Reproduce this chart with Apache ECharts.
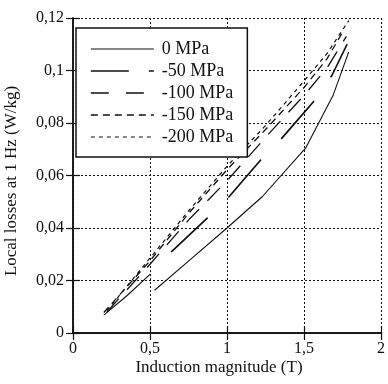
<!DOCTYPE html>
<html>
<head>
<meta charset="utf-8">
<script src="https://cdn.jsdelivr.net/npm/echarts@6/dist/echarts.min.js"></script>
<style>html,body{margin:0;padding:0;background:#fff}#c{width:388px;height:384px}</style>
</head>
<body>
<div id="c"></div>
<script>
// ---- data ----
const seriesNames = ['0 MPa', '-50 MPa', '-100 MPa', '-150 MPa', '-200 MPa'];
const b0   = [0.2, 0.35, 0.5, 0.51, 0.53, 0.75, 1.0, 1.23, 1.51, 1.69, 1.79];
const l0   = [0.0068, 0.0142, 0.0223, null, 0.0163, 0.0274, 0.040, 0.052, 0.0704, 0.0907, 0.107];
const b50  = [0.5, 0.64, 0.87, 1.0, 1.22, 1.35, 1.56, 1.68, 1.78];
const l50  = [0.0233, 0.031, 0.0437, 0.051, 0.066, 0.0738, 0.088, 0.098, 0.110];
const b100 = [0.22, 0.5, 0.75, 1.0, 1.25, 1.5, 1.65, 1.775];
const l100 = [0.0080, 0.0262, 0.043, 0.058, 0.0745, 0.0905, 0.101, 0.113];
const b150 = [0.2, 0.5, 0.75, 1.0, 1.25, 1.5, 1.65, 1.76];
const l150 = [0.0078, 0.0275, 0.0455, 0.0622, 0.0775, 0.0935, 0.1045, 0.1155];
const b200 = [0.22, 0.5, 0.75, 1.0, 1.25, 1.5, 1.65, 1.79];
const l200 = [0.0085, 0.0285, 0.0465, 0.0635, 0.079, 0.096, 0.1065, 0.119];
const xTickLabels = ['0', '0,5', '1', '1,5', '2'];
const yTickLabels = ['0', '0,02', '0,04', '0,06', '0,08', '0,1', '0,12'];
const xTitle = 'Induction magnitude (T)';
const yTitle = 'Local losses at 1 Hz (W/kg)';

function pairs(bs, ls) { return bs.map((b, i) => [b, ls[i] === null ? '-' : ls[i]]); }
const FONT = '"Liberation Serif", "DejaVu Serif", serif';
const INK = '#111';

const styles = [
  { type: 'solid', width: 1.1 },
  { type: [50, 29], width: 1.7, dashOffset: 50 },
  { type: [18, 12], width: 1.3 },
  { type: [7, 5], width: 1.3 },
  { type: [4, 4], width: 1.2 }
];
const legendDash = ['solid', [38, 20], [18, 17], [7, 5], [4, 4]];
const data = [pairs(b0, l0), pairs(b50, l50), pairs(b100, l100), pairs(b150, l150), pairs(b200, l200)];

const chart = echarts.init(document.getElementById('c'), null, { renderer: 'canvas' });
const axisCommon = {
  type: 'value',
  axisLine: { show: true, lineStyle: { color: INK, width: 1.5 } },
  axisTick: { show: true, inside: true, length: 7, lineStyle: { color: INK, width: 1.2 } },
  splitLine: { show: false },
  axisLabel: { show: false }
};
chart.setOption({
  animation: false,
  backgroundColor: '#fff',
  grid: { left: 73, right: 2, top: 18, bottom: 51, show: false },
  xAxis: [
    Object.assign({}, axisCommon, {
      position: 'bottom', min: 0, max: 2, interval: 0.5,
      splitLine: { show: true, lineStyle: { color: INK, type: [2, 2], width: 1 } },
      axisLabel: { show: true, color: INK, fontFamily: FONT, fontSize: 16, margin: 8,
        formatter: v => xTickLabels[Math.round(v / 0.5)] }
    }),
    Object.assign({}, axisCommon, { position: 'top', min: 0, max: 2, interval: 0.5 })
  ],
  yAxis: [
    Object.assign({}, axisCommon, {
      position: 'left', min: 0, max: 0.12, interval: 0.02,
      splitLine: { show: true, lineStyle: { color: INK, type: [2, 2], width: 1 } },
      axisLabel: { show: true, color: INK, fontFamily: FONT, fontSize: 16, margin: 9,
        formatter: v => yTickLabels[Math.round(v / 0.02)] }
    }),
    Object.assign({}, axisCommon, { position: 'right', min: 0, max: 0.12, interval: 0.02 })
  ],
  legend: {
    left: 76, top: 28, orient: 'vertical',
    backgroundColor: '#fff', borderColor: INK, borderWidth: 1.5,
    padding: [12, 14, 11, 14],
    itemWidth: 63, itemHeight: 14, itemGap: 4,
    textStyle: { color: INK, fontFamily: FONT, fontSize: 18, lineHeight: 18, padding: [0, 0, 0, 3] },
    data: seriesNames.map((n, i) => ({
      name: n,
      itemStyle: { opacity: 0 },
      lineStyle: { type: legendDash[i], width: styles[i].width, color: INK, dashOffset: 0 }
    }))
  },
  graphic: [
    { type: 'text', x: 219, y: 368, style: { text: xTitle, font: '17px ' + FONT, fill: INK, textAlign: 'center', textVerticalAlign: 'middle' } },
    { type: 'text', rotation: Math.PI / 2, x: 12, y: 181, style: { text: yTitle, font: '17px ' + FONT, fill: INK, textAlign: 'center', textVerticalAlign: 'middle' } }
  ],
  series: seriesNames.map((n, i) => ({
    name: n, type: 'line', data: data[i], symbol: 'none', connectNulls: false,
    xAxisIndex: 0, yAxisIndex: 0, silent: true,
    lineStyle: { color: INK, width: styles[i].width, type: styles[i].type, dashOffset: styles[i].dashOffset || 0 },
    itemStyle: { color: INK }
  }))
});
</script>
</body>
</html>
